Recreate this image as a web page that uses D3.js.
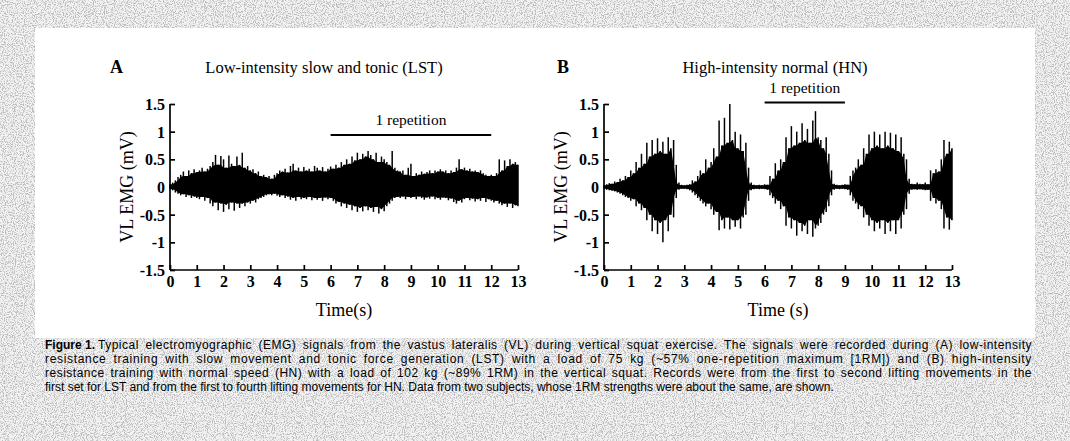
<!DOCTYPE html>
<html>
<head>
<meta charset="utf-8">
<script src="https://cdn.jsdelivr.net/npm/d3@7"></script>
<style>
  body { margin: 0; background: #fff; }
  svg { display: block; }
</style>
</head>
<body>
<div id="chart"></div>
<script>
// EMG envelopes, one value every 0.1 s from 0 to 13 s
const step = 0.1;

const lstHigh = [
  0.05, 0.08, 0.12, 0.18, 0.22, 0.28, 0.2, 0.3, 0.25, 0.32,
  0.27, 0.3, 0.35, 0.28, 0.33, 0.38, 0.45, 0.58, 0.4, 0.56,
  0.5, 0.35, 0.57, 0.42, 0.38, 0.55, 0.4, 0.62, 0.35, 0.38,
  0.3, 0.32, 0.25, 0.28, 0.2, 0.22, 0.18, 0.2, 0.15, 0.22,
  0.25, 0.3, 0.28, 0.33, 0.26, 0.38, 0.42, 0.3, 0.35, 0.28,
  0.36, 0.3, 0.33, 0.28, 0.38, 0.35, 0.3, 0.36, 0.28, 0.33,
  0.37, 0.33, 0.4, 0.35, 0.45, 0.4, 0.5, 0.42, 0.55, 0.48,
  0.62, 0.5, 0.6, 0.55, 0.65, 0.58, 0.5, 0.62, 0.45, 0.55,
  0.5, 0.45, 0.4, 0.65, 0.35, 0.3, 0.28, 0.3, 0.22, 0.35,
  0.42, 0.2, 0.25, 0.22, 0.28, 0.24, 0.27, 0.3, 0.25, 0.3,
  0.28, 0.32, 0.28, 0.3, 0.25, 0.3, 0.27, 0.35, 0.5, 0.32,
  0.35, 0.3, 0.33, 0.28, 0.3, 0.27, 0.3, 0.25, 0.22, 0.2,
  0.22, 0.2, 0.25, 0.5, 0.3, 0.48, 0.38, 0.5, 0.42, 0.45,
  0.4
];
const lstLow = [
  -0.04, -0.06, -0.1, -0.12, -0.15, -0.13, -0.18, -0.15, -0.2, -0.17,
  -0.2, -0.22, -0.18, -0.25, -0.2, -0.3, -0.35, -0.28, -0.42, -0.3,
  -0.45, -0.32, -0.4, -0.28, -0.43, -0.3, -0.38, -0.3, -0.35, -0.28,
  -0.3, -0.25, -0.28, -0.22, -0.2, -0.18, -0.15, -0.13, -0.15, -0.12,
  -0.16, -0.18, -0.15, -0.2, -0.17, -0.23, -0.2, -0.25, -0.18, -0.22,
  -0.2, -0.22, -0.18, -0.24, -0.2, -0.23, -0.2, -0.25, -0.19, -0.22,
  -0.2, -0.25, -0.3, -0.27, -0.35, -0.3, -0.38, -0.32, -0.42, -0.35,
  -0.45, -0.38, -0.44, -0.35, -0.42, -0.38, -0.45, -0.36, -0.48, -0.4,
  -0.44, -0.35, -0.3, -0.25, -0.2, -0.18, -0.2, -0.17, -0.22, -0.18,
  -0.2, -0.18, -0.22, -0.17, -0.2, -0.23, -0.19, -0.21, -0.17, -0.22,
  -0.2, -0.23, -0.19, -0.2, -0.24, -0.21, -0.27, -0.3, -0.25, -0.28,
  -0.22, -0.2, -0.24, -0.21, -0.26, -0.22, -0.25, -0.2, -0.27, -0.22,
  -0.25, -0.28, -0.25, -0.3, -0.33, -0.3, -0.36, -0.3, -0.38, -0.33,
  -0.35
];

const hnHigh = [
  0.03, 0.05, 0.07, 0.06, 0.1, 0.09, 0.15, 0.12, 0.2, 0.18,
  0.3, 0.25, 0.45, 0.35, 0.6, 0.42, 0.8, 0.55, 0.85, 0.6,
  0.88, 0.65, 0.82, 0.6, 0.9, 0.7, 0.85, 0.4, 0.08, 0.04,
  0.03, 0.04, 0.05, 0.12, 0.1, 0.2, 0.3, 0.25, 0.5, 0.35,
  0.45, 0.7, 0.55, 1.2, 0.75, 1.25, 0.8, 1.5, 0.85, 1.0,
  0.7, 0.95, 0.65, 0.8, 0.35, 0.08, 0.04, 0.03, 0.04, 0.03,
  0.05, 0.04, 0.2, 0.15, 0.43, 0.3, 0.5, 0.45, 0.9, 0.7,
  1.1, 0.75, 1.0, 0.8, 1.15, 0.85, 1.05, 0.8, 1.2, 1.37,
  0.9, 0.85, 0.7, 0.9, 0.6, 0.3, 0.06, 0.04, 0.03, 0.04,
  0.05, 0.04, 0.2, 0.3, 0.35, 0.5, 0.4, 0.7, 0.6, 0.95,
  0.7, 1.0, 0.75, 0.95, 0.7, 1.0, 0.75, 0.98, 0.7, 0.95,
  0.65, 0.9, 0.6, 0.5, 0.15, 0.06, 0.05, 0.08, 0.06, 0.05,
  0.08, 0.05, 0.3, 0.25, 0.32, 0.28, 0.5, 0.85, 0.6, 0.82,
  0.7
];
const hnLow = [
  -0.03, -0.05, -0.06, -0.07, -0.08, -0.1, -0.12, -0.15, -0.18, -0.2,
  -0.25, -0.22, -0.35, -0.3, -0.42, -0.38, -0.6, -0.5, -0.8, -0.6,
  -0.85, -0.65, -1.0, -0.6, -0.8, -0.5, -0.55, -0.2, -0.05, -0.03,
  -0.03, -0.04, -0.06, -0.1, -0.15, -0.2, -0.25, -0.3, -0.35, -0.3,
  -0.4, -0.5, -0.45, -0.78, -0.6, -0.75, -0.55, -0.77, -0.6, -0.72,
  -0.6, -0.75, -0.55, -0.5, -0.25, -0.06, -0.04, -0.03, -0.04, -0.03,
  -0.04, -0.05, -0.15, -0.2, -0.3, -0.25, -0.4, -0.35, -0.7, -0.55,
  -0.75, -0.6, -0.88, -0.65, -0.8, -0.7, -0.85, -0.6, -0.9, -0.75,
  -0.7, -0.65, -0.5, -0.45, -0.35, -0.15, -0.05, -0.03, -0.04, -0.03,
  -0.04, -0.05, -0.15, -0.25, -0.3, -0.4, -0.35, -0.55, -0.5, -0.7,
  -0.6, -0.8, -0.65, -0.75, -0.6, -0.85, -0.65, -0.8, -0.6, -0.85,
  -0.6, -0.75, -0.5, -0.4, -0.12, -0.05, -0.04, -0.05, -0.04, -0.05,
  -0.06, -0.05, -0.25, -0.2, -0.3, -0.25, -0.4, -0.75, -0.55, -0.77,
  -0.6
];

const timeTicks = [0, 1, 2, 3, 4, 5, 6, 7, 8, 9, 10, 11, 12, 13];
const emgTicks = [-1.5, -1, -0.5, 0, 0.5, 1, 1.5];
const emgTickLabels = ["-1.5", "-1", "-0.5", "0", "0.5", "1", "1.5"];

const repLST = [6, 12];
const repHN = [6, 9];

const captionLines = [
  "Typical electromyographic (EMG) signals from the vastus lateralis (VL) during vertical squat exercise. The signals were recorded during (A) low-intensity",
  "resistance training with slow movement and tonic force generation (LST) with a load of 75 kg (~57% one-repetition maximum [1RM]) and (B) high-intensity",
  "resistance training with normal speed (HN) with a load of 102 kg (~89% 1RM) in the vertical squat. Records were from the first to second lifting movements in the",
  "first set for LST and from the first to fourth lifting movements for HN. Data from two subjects, whose 1RM strengths were about the same, are shown."
];

const width = 1070, height = 441;
const serif = "'Liberation Serif', 'Times New Roman', serif";
const sans = "'Liberation Sans', Arial, sans-serif";

const svg = d3.select("#chart").append("svg")
  .attr("width", width)
  .attr("height", height);

// scanned-paper grey speckle for the page background
const filter = svg.append("defs").append("filter")
  .attr("id", "grain")
  .attr("x", 0).attr("y", 0).attr("width", "100%").attr("height", "100%");
filter.append("feTurbulence")
  .attr("type", "fractalNoise")
  .attr("baseFrequency", 0.9)
  .attr("numOctaves", 2)
  .attr("seed", 3)
  .attr("result", "noise");
filter.append("feColorMatrix")
  .attr("in", "noise")
  .attr("type", "matrix")
  .attr("values", "0 0 0 0 0.5  0 0 0 0 0.5  0 0 0 0 0.5  -5 0 0 0 2.7")
  .attr("result", "dots");
filter.append("feFlood").attr("flood-color", "#f3f3f3").attr("result", "paper");
filter.append("feComposite").attr("in", "dots").attr("in2", "paper").attr("operator", "over");

svg.append("rect").attr("width", width).attr("height", height).attr("filter", "url(#grain)");
svg.append("rect").attr("x", 35).attr("y", 28).attr("width", 1000).attr("height", 310).attr("fill", "#fff");

const y = d3.scaleLinear().domain([-1.5, 1.5]).range([270, 104]);

function drawPanel(left, high, low, letter, letterX, title, titleX, rep, repY, xTitle) {
  const x = d3.scaleLinear().domain([0, 13]).range([left, left + 348]);
  const g = svg.append("g");

  // dense core of the signal: the smaller of each neighbouring envelope value
  const coreHigh = high.map((d, i) => Math.min(d, high[i - 1] ?? d, high[i + 1] ?? d));
  const coreLow = low.map((d, i) => Math.max(d, low[i - 1] ?? d, low[i + 1] ?? d));
  const area = d3.area()
    .x((d, i) => x(i * step))
    .y0((d, i) => y(coreLow[i]))
    .y1(d => y(d));
  g.append("path")
    .datum(coreHigh)
    .attr("d", area)
    .attr("fill", "#000");

  // individual spikes reaching the envelope
  g.append("g")
    .selectAll("line")
    .data(high)
    .join("line")
    .attr("x1", (d, i) => x(i * step))
    .attr("x2", (d, i) => x(i * step))
    .attr("y1", d => y(d))
    .attr("y2", (d, i) => y(low[i]))
    .attr("stroke", "#000")
    .attr("stroke-width", 1.5);

  const yAxis = g.append("g")
    .attr("transform", `translate(${left},0)`)
    .call(d3.axisRight(y).tickValues(emgTicks).tickSize(5)
      .tickFormat((d, i) => emgTickLabels[i]));
  yAxis.select(".domain").attr("d", `M0,${y(1.5)}V${y(-1.5)}`);
  yAxis.selectAll("text")
    .attr("x", -5).attr("dy", "0.35em")
    .attr("text-anchor", "end");

  const xAxis = g.append("g")
    .attr("transform", `translate(0,${y(-1.5)})`)
    .call(d3.axisTop(x).tickValues(timeTicks).tickSize(5));
  xAxis.select(".domain").attr("d", `M${x(0)},0H${x(13)}`);
  xAxis.selectAll("text").attr("y", 17).attr("dy", 0);

  g.selectAll(".domain, .tick line").attr("stroke", "#000").attr("stroke-width", 1.7);
  g.selectAll(".tick text")
    .attr("font-family", serif).attr("font-size", 16)
    .attr("font-weight", "bold").attr("fill", "#000");

  g.append("text")
    .attr("x", x(6.5)).attr("y", 316)
    .attr("text-anchor", "middle")
    .attr("font-family", serif).attr("font-size", 18)
    .text(xTitle);

  g.append("text")
    .attr("transform", `translate(${left - 37},${y(0)}) rotate(-90)`)
    .attr("text-anchor", "middle")
    .attr("font-family", serif).attr("font-size", 18)
    .text("VL EMG (mV)");

  g.append("text")
    .attr("x", letterX).attr("y", 73)
    .attr("font-family", serif).attr("font-size", 18).attr("font-weight", "bold")
    .text(letter);

  g.append("text")
    .attr("x", titleX).attr("y", 73)
    .attr("text-anchor", "middle")
    .attr("font-family", serif).attr("font-size", 16.5)
    .text(title);

  g.append("line")
    .attr("x1", x(rep[0])).attr("x2", x(rep[1]))
    .attr("y1", repY).attr("y2", repY)
    .attr("stroke", "#000").attr("stroke-width", 2);
  g.append("text")
    .attr("x", x((rep[0] + rep[1]) / 2)).attr("y", repY - 10)
    .attr("text-anchor", "middle")
    .attr("font-family", serif).attr("font-size", 15.5)
    .text("1 repetition");
}

drawPanel(170, lstHigh, lstLow, "A", 110, "Low-intensity slow and tonic (LST)", 324, repLST, 135, "Time(s)");
drawPanel(604, hnHigh, hnLow, "B", 557, "High-intensity normal (HN)", 775, repHN, 102.5, "Time (s)");

// caption, justified to the panel edge except the last line
const cap = svg.append("g").attr("font-family", sans).attr("font-size", 12).attr("fill", "#000");
const lead = cap.append("text")
  .attr("x", 45).attr("y", 349)
  .attr("font-weight", "bold")
  .text("Figure 1.");
const leadEnd = 45 + lead.node().getComputedTextLength() + 3;
captionLines.forEach((line, i) => {
  const x0 = i === 0 ? leadEnd : 45;
  const t = cap.append("text")
    .attr("x", x0).attr("y", 349 + i * 14)
    .text(line);
  if (i < captionLines.length - 1) {
    const gap = 1032 - x0 - t.node().getComputedTextLength();
    const spaces = line.split(" ").length - 1;
    t.attr("letter-spacing", gap * 0.6 / line.length)
      .attr("word-spacing", gap * 0.4 / spaces);
  }
});
</script>
</body>
</html>
